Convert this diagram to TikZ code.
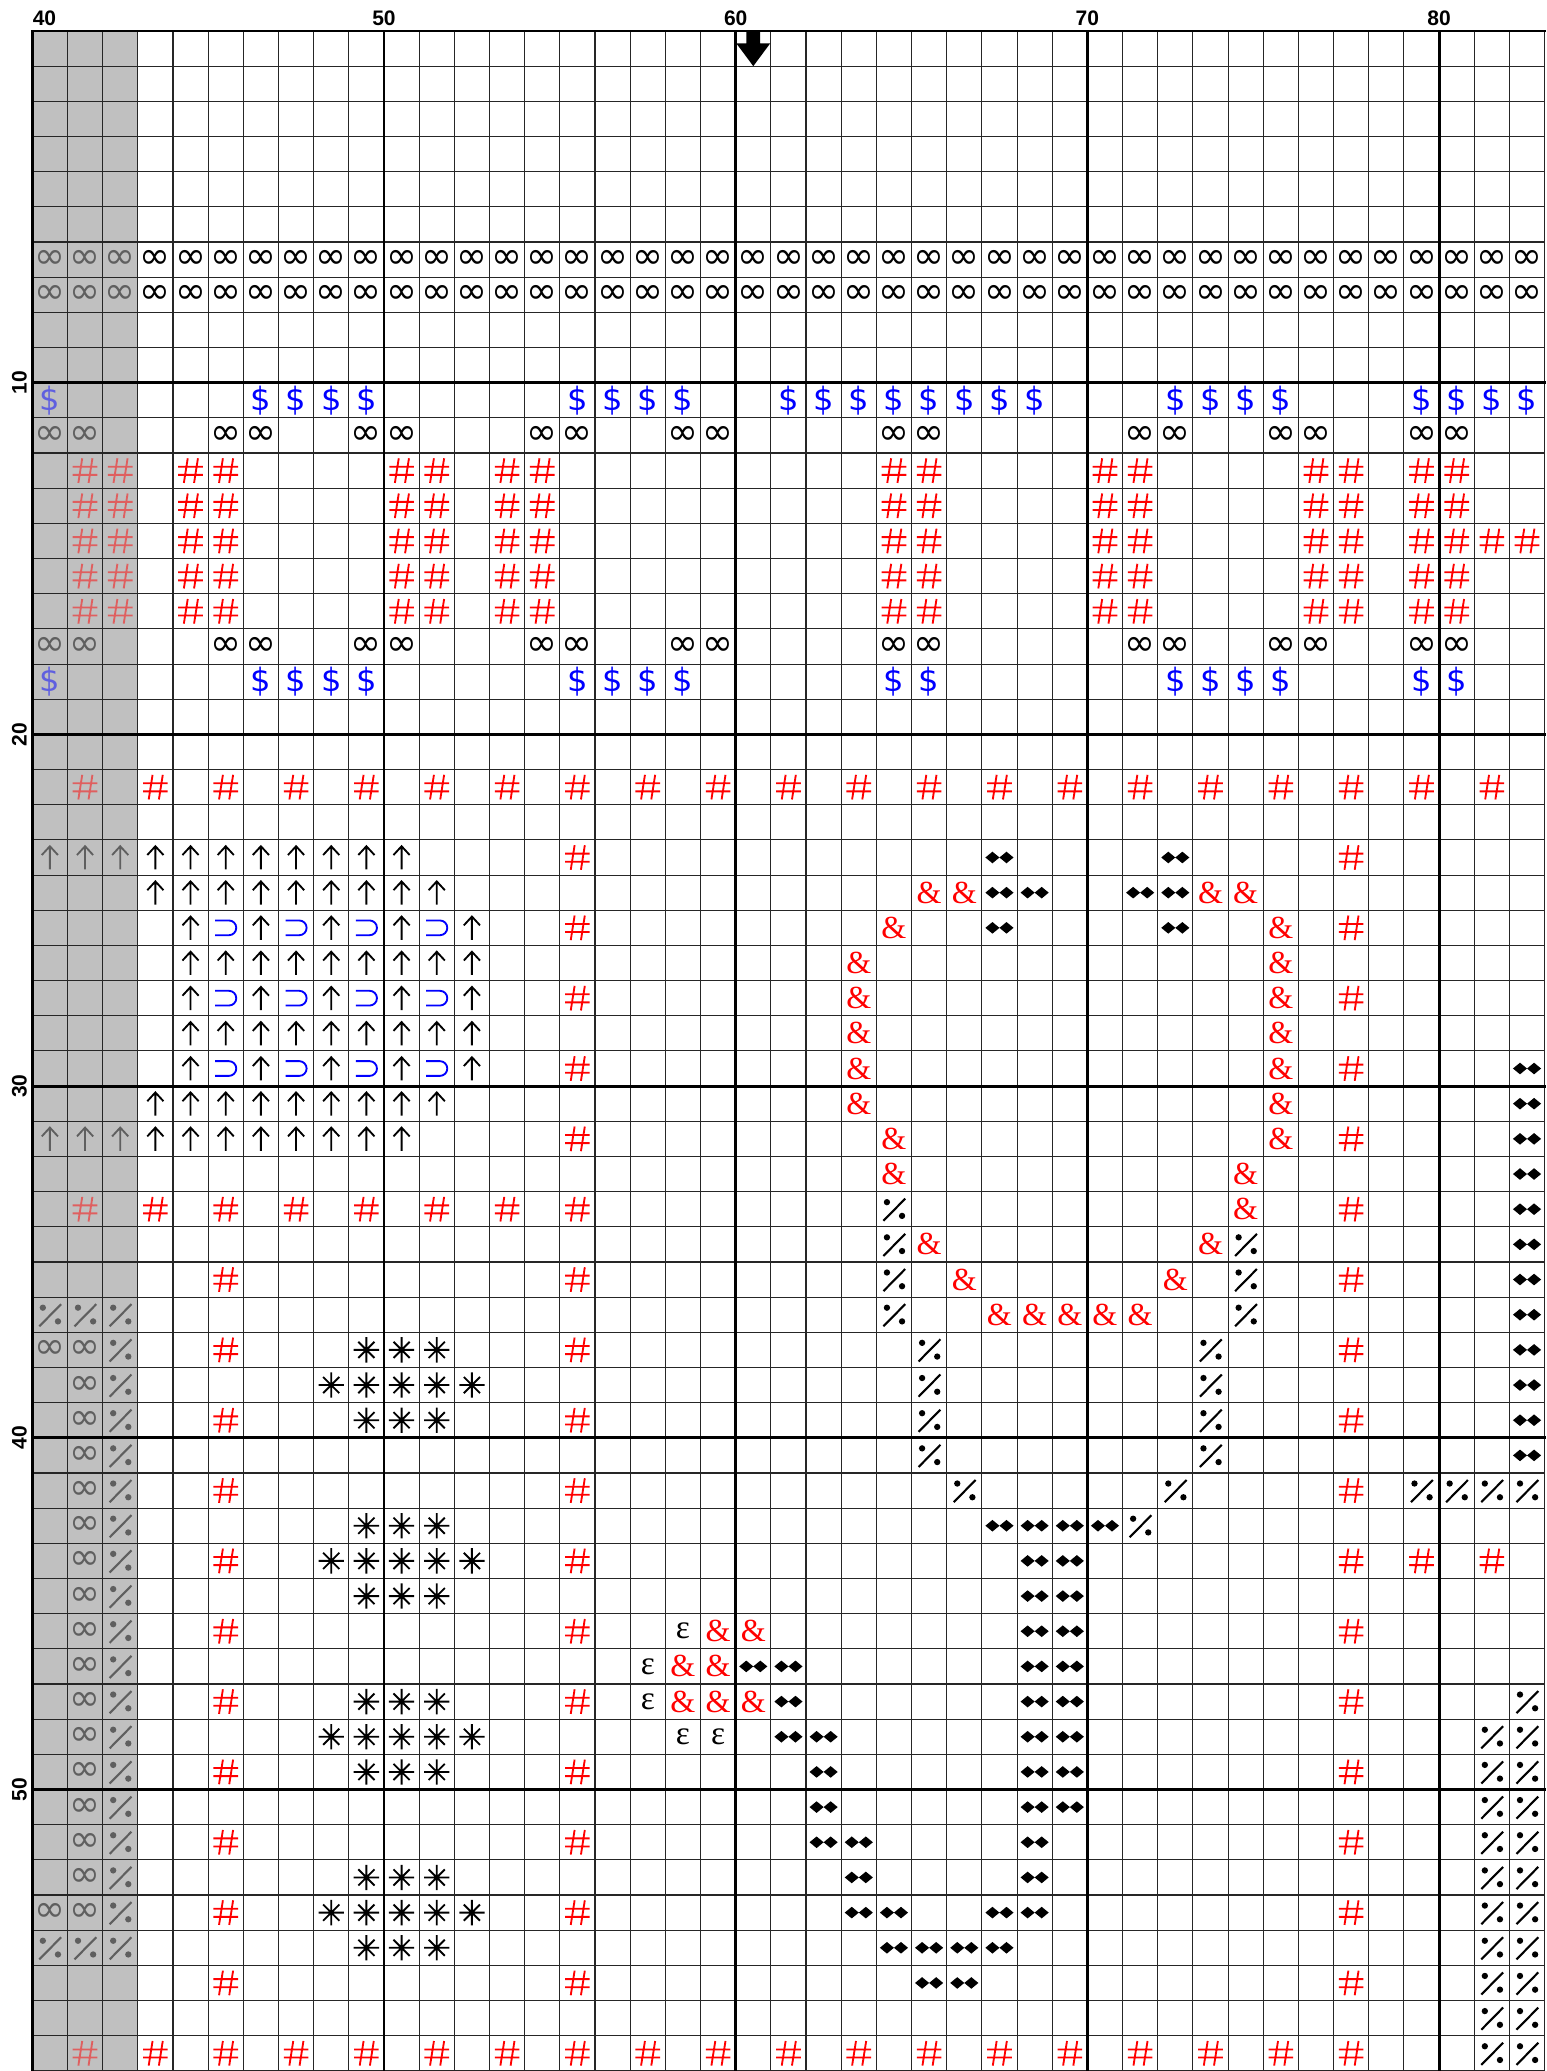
\documentclass[tikz,border=0pt]{standalone}
\usepackage{fontspec}
\setsansfont{Liberation Sans}
\newfontfamily\chartsym{DejaVu Sans}
\newfontfamily\chartserif{Liberation Serif}

\definecolor{shadecol}{HTML}{C0C0C0}
\definecolor{stitchred}{HTML}{FF0000}
\definecolor{stitchblue}{HTML}{0000FF}

\tikzset{
  gridline/.style={line width=0.45pt, black!85},
  tenline/.style={line width=1.2pt, black, line cap=rect},
  collabel/.style={font=\sffamily\bfseries\fontsize{8.5}{8.5}\selectfont, inner sep=0pt},
  rowlabel/.style={collabel, rotate=90, anchor=base},
  glyph/.style={inner sep=0pt, outer sep=0pt, anchor=center},
  infglyph/.style={glyph, font=\chartsym\fontsize{15}{15}\selectfont},
  dollarglyph/.style={glyph, text=stitchblue, font=\chartsym\fontsize{13}{13}\selectfont},
  ampglyph/.style={glyph, text=stitchred, font=\chartserif\fontsize{13}{13}\selectfont},
  epsglyph/.style={glyph, font=\chartserif\fontsize{13.5}{13.5}\selectfont},
  faded/.style={opacity=0.5},
  symline/.style={line width=0.75pt},
  pics/hashmark/.style={code={
    \draw[symline, stitchred] (-0.35,0.11) -- (0.35,0.11) (-0.35,-0.12) -- (0.35,-0.12)
      (-0.19,-0.35) -- (-0.08,0.35) (0.1,-0.35) -- (0.21,0.35);}},
  pics/uparrow/.style={code={
    \draw[symline] (0,-0.34) -- (0,0.32) (-0.23,0.07) -- (0,0.32) -- (0.23,0.07);}},
  pics/openright/.style={code={
    \draw[symline, stitchblue] (-0.3,0.21) -- (0.09,0.21)
      arc[start angle=90, end angle=-90, radius=0.21] -- (-0.3,-0.21);}},
  pics/twodiamonds/.style={code={
    \fill (-0.4,0) -- (-0.2,0.165) -- (0,0) -- (-0.2,-0.165) -- cycle
          (0,0) -- (0.2,0.165) -- (0.4,0) -- (0.2,-0.165) -- cycle;}},
  pics/dotslash/.style={code={
    \draw[line width=0.85pt] (-0.3,-0.33) -- (0.32,0.3);
    \fill (-0.2,0.2) circle (0.09) (0.23,-0.19) circle (0.09);}},
  pics/spokes/.style={code={
    \draw[symline] (0,-0.36) -- (0,0.36) (-0.36,0) -- (0.36,0)
      (-0.23,-0.23) -- (0.23,0.23) (-0.23,0.23) -- (0.23,-0.23);}},
}

\begin{document}
\begin{tikzpicture}[x=0.5cm, y=0.5cm]
  \useasboundingbox (-0.918,0.881) rectangle (43.068,-58.004);

  % shaded columns 40-42
  \fill[shadecol] (0,0) rectangle (3,-58);

  % --- grid ---
  \draw[gridline, step=0.5cm] (0,-58) grid (43,0);
  \foreach \c in {0,10,20,30,40} \draw[tenline] (\c,0) -- (\c,-58);
  \foreach \r in {0,10,20,30,40,50} \draw[tenline] (0,-\r) -- (43,-\r);

  % --- numbers ---
  \node[collabel, anchor=base west] (lab40) at (0,0.17) {40};
  \foreach \c/\t in {10/50,20/60,30/70,40/80}
    \node[collabel, anchor=base] (lab\t) at (\c,0.17) {\t};
  \foreach \r in {10,20,30,40,50}
    \node[rowlabel] (row\r) at (-0.16,-\r) {\r};

  % centre marker
  \fill (20.305,0) -- (20.695,0) -- (20.695,-0.35) -- (20.983,-0.35)
    -- (20.5,-1.0) -- (20.017,-0.35) -- (20.305,-0.35) -- cycle;

  % --- infinity ---
  \foreach \r in {7,8} {
    \foreach \c in {0,1,2} \node[infglyph, faded] (inf-\r-\c) at ({\c+0.5},{0.5-\r}) {∞};
    \foreach \c in {3,...,42} \node[infglyph] (inf-\r-\c) at ({\c+0.5},{0.5-\r}) {∞};
  }
  \foreach \r in {12,18} {
    \foreach \c in {0,1} \node[infglyph, faded] (inf-\r-\c) at ({\c+0.5},{0.5-\r}) {∞};
    \foreach \c in {5,6,9,10,14,15,18,19,24,25,31,32,35,36,39,40}
      \node[infglyph] (inf-\r-\c) at ({\c+0.5},{0.5-\r}) {∞};
  }
  \foreach \r in {38,54} \node[infglyph, faded] (inf-\r-0) at (0.5,{0.5-\r}) {∞};
  \foreach \r in {38,...,54} \node[infglyph, faded] (inf-\r-1) at (1.5,{0.5-\r}) {∞};

  % --- dollars ---
  \foreach \r/\cols in {11/{6,7,8,9,15,16,17,18,21,22,23,24,25,26,27,28,32,33,34,35,39,40,41,42},
                        19/{6,7,8,9,15,16,17,18,24,25,32,33,34,35,39,40}} {
    \node[dollarglyph, faded] (usd-\r-0) at (0.5,{0.5-\r}) {\$};
    \foreach \c in \cols \node[dollarglyph] (usd-\r-\c) at ({\c+0.5},{0.5-\r}) {\$};
  }

  % --- hashes ---
  \foreach \r in {13,...,17} {
    \foreach \c in {1,2} \pic[faded] (hash-\r-\c) at ({\c+0.5},{0.5-\r}) {hashmark};
    \foreach \c in {4,5,10,11,13,14,24,25,30,31,36,37,39,40}
      \pic (hash-\r-\c) at ({\c+0.5},{0.5-\r}) {hashmark};
  }
  \foreach \c in {41,42} \pic (hash-15-\c) at ({\c+0.5},-14.5) {hashmark};
  \foreach \r/\last in {22/41,34/15,58/37} {
    \pic[faded] (hash-\r-1) at (1.5,{0.5-\r}) {hashmark};
    \foreach \c in {3,5,...,\last} \pic (hash-\r-\c) at ({\c+0.5},{0.5-\r}) {hashmark};
  }
  \pic (hash-34-37) at (37.5,-33.5) {hashmark};
  \foreach \r in {24,26,28,30,32,36,38,40,42,44,46,48,50,52,54,56} {
    \pic (hash-\r-15) at (15.5,{0.5-\r}) {hashmark};
    \pic (hash-\r-37) at (37.5,{0.5-\r}) {hashmark};
  }
  \foreach \r in {36,38,...,56} \pic (hash-\r-5) at (5.5,{0.5-\r}) {hashmark};
  \foreach \c in {39,41} \pic (hash-44-\c) at ({\c+0.5},-43.5) {hashmark};

  % --- arrows and hooks ---
  \foreach \r in {24,32}
    \foreach \c in {0,1,2} \pic[faded] (up-\r-\c) at ({\c+0.5},{0.5-\r}) {uparrow};
  \foreach \r/\first/\last in {24/3/10,25/3/11,27/4/12,29/4/12,31/3/11,32/3/10}
    \foreach \c in {\first,...,\last} \pic (up-\r-\c) at ({\c+0.5},{0.5-\r}) {uparrow};
  \foreach \r in {26,28,30} {
    \foreach \c in {4,6,...,12} \pic (up-\r-\c) at ({\c+0.5},{0.5-\r}) {uparrow};
    \foreach \c in {5,7,...,11} \pic (sup-\r-\c) at ({\c+0.5},{0.5-\r}) {openright};
  }

  % --- ampersands ---
  \foreach \r/\c in {25/25,25/26,25/33,25/34,26/24,26/35,27/23,27/35,28/23,28/35,
                     29/23,29/35,30/23,30/35,31/23,31/35,32/24,32/35,33/24,33/34,
                     34/34,35/25,35/33,36/26,36/32,37/27,37/28,37/29,37/30,37/31,
                     46/19,46/20,47/18,47/19,48/18,48/19,48/20}
    \node[ampglyph] (amp-\r-\c) at ({\c+0.5},{0.5-\r}) {\&};

  % --- epsilons ---
  \foreach \r/\c in {46/18,47/17,48/17,49/18,49/19}
    \node[epsglyph] (eps-\r-\c) at ({\c+0.5},{0.5-\r}) {ε};

  % --- diamonds ---
  \foreach \r/\c in {24/27,24/32,25/27,25/28,25/31,25/32,26/27,26/32,
                     43/27,43/28,43/29,43/30,47/20,47/21,48/21,49/21,49/22,
                     50/22,51/22,52/22,52/23,53/23,54/23,54/24,54/27,
                     55/24,55/25,55/26,55/27,56/25,56/26}
    \pic (dia-\r-\c) at ({\c+0.5},{0.5-\r}) {twodiamonds};
  \foreach \r in {30,...,41} \pic (dia-\r-42) at (42.5,{0.5-\r}) {twodiamonds};
  \foreach \r in {44,...,54} \pic (dia-\r-28) at (28.5,{0.5-\r}) {twodiamonds};
  \foreach \r in {44,...,51} \pic (dia-\r-29) at (29.5,{0.5-\r}) {twodiamonds};

  % --- dot slashes ---
  \foreach \r in {37,55}
    \foreach \c in {0,1} \pic[faded] (ds-\r-\c) at ({\c+0.5},{0.5-\r}) {dotslash};
  \foreach \r in {37,...,55} \pic[faded] (ds-\r-2) at (2.5,{0.5-\r}) {dotslash};
  \foreach \r/\c in {34/24,35/24,36/24,37/24,35/34,36/34,37/34,
                     38/25,39/25,40/25,41/25,38/33,39/33,40/33,41/33,
                     42/26,42/32,42/39,42/40,42/41,42/42,43/31,48/42}
    \pic (ds-\r-\c) at ({\c+0.5},{0.5-\r}) {dotslash};
  \foreach \r in {49,...,58}
    \foreach \c in {41,42} \pic (ds-\r-\c) at ({\c+0.5},{0.5-\r}) {dotslash};

  % --- stars ---
  \foreach \r in {38,40,43,45,48,50,53,55}
    \foreach \c in {9,10,11} \pic (st-\r-\c) at ({\c+0.5},{0.5-\r}) {spokes};
  \foreach \r in {39,44,49,54}
    \foreach \c in {8,...,12} \pic (st-\r-\c) at ({\c+0.5},{0.5-\r}) {spokes};
\end{tikzpicture}
\end{document}
